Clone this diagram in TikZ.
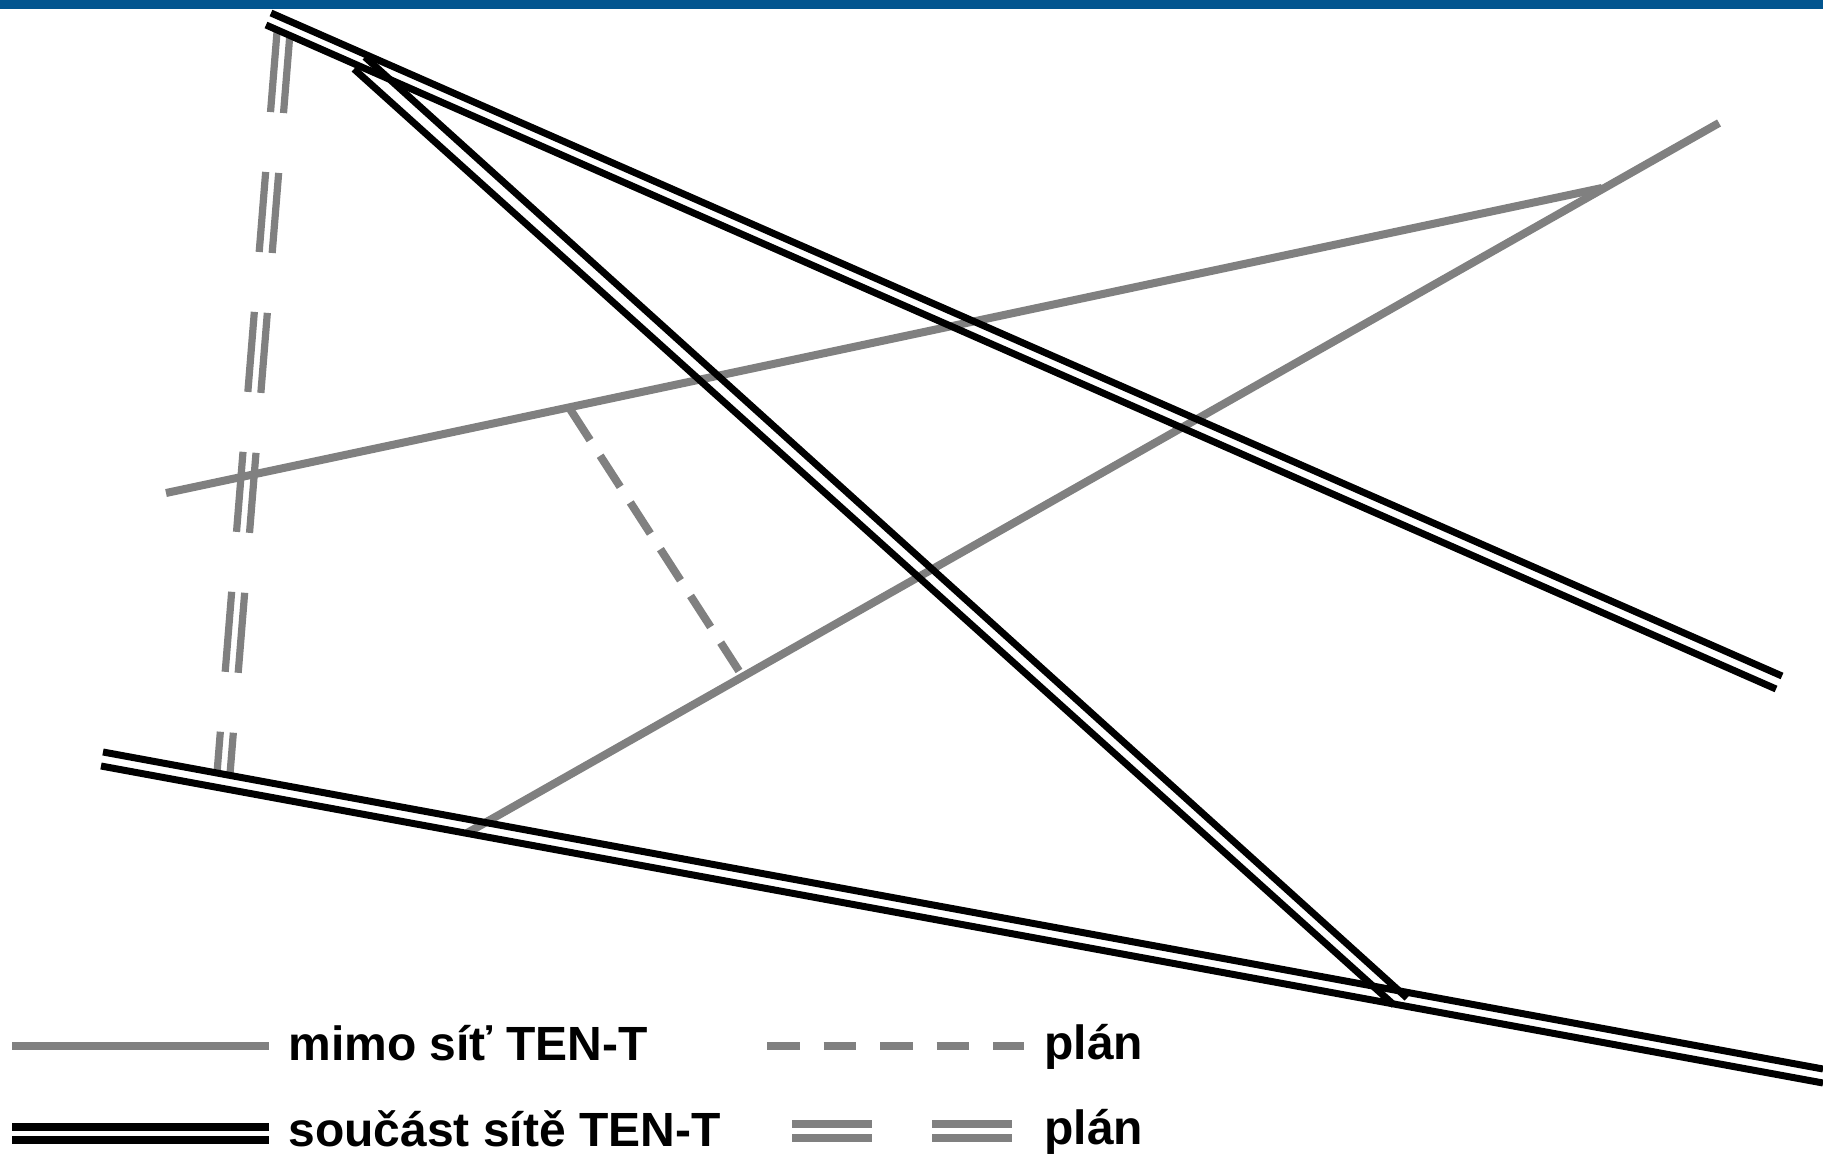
\documentclass[tikz,border=0pt]{standalone}
\usepackage{fontspec}
\setmainfont{Liberation Sans}
\definecolor{barblue}{HTML}{02558F}
\definecolor{railgrey}{HTML}{808080}
\tikzset{
  blackrail/.style={draw=black,line width=3.5pt,line cap=butt},
  greyrail/.style={draw=railgrey,line width=4pt,line cap=butt},
  greyplan/.style={greyrail,dash pattern=on 18.5pt off 9.3pt},
  greydouble/.style={greyrail,line width=3.6pt,dash pattern=on 40.15pt off 30.05pt},
  legendgrey/.style={draw=railgrey,line width=4.2pt,line cap=butt},
  legenddash/.style={legendgrey,dash pattern=on 16.25pt off 12pt},
  legendblack/.style={draw=black,line width=4pt,line cap=butt},
  legenddouble/.style={draw=railgrey,line width=3.8pt,line cap=butt},
  legendtext/.style={anchor=base west,inner sep=0pt,font=\fontsize{24pt}{28pt}\selectfont\bfseries}
}
\begin{document}
\begin{tikzpicture}[x=0.5pt,y=-0.5pt]
\useasboundingbox (0,0) rectangle (1823,1154);
\fill[white] (0,0) rectangle (1823,1154);
\fill[barblue] (0,0) rectangle (1823,9);
% end points
\coordinate (a1) at (271,13);   \coordinate (a2) at (1782,676);
\coordinate (a3) at (266,25);   \coordinate (a4) at (1776,689);
\coordinate (b1) at (365,57);   \coordinate (b2) at (1407,998);
\coordinate (b3) at (354,69);   \coordinate (b4) at (1394,1005);
\coordinate (c1) at (103,752);  \coordinate (c2) at (1823,1069);
\coordinate (c3) at (101,766);  \coordinate (c4) at (1823,1083);
\coordinate (g1) at (166,493);  \coordinate (g2) at (1602,188);
\coordinate (h1) at (1719,123); \coordinate (h2) at (467,833);
\coordinate (p1) at (570,409);  \coordinate (p2) at (739,671);
\coordinate (d1) at (277,32);   \coordinate (d2) at (217,773);
\coordinate (e1) at (290,33);   \coordinate (e2) at (230,774);
% grey lines
\draw[greyrail] (g1) -- (g2);
\draw[greyrail] (h1) -- (h2);
\draw[greyplan] (p1) -- (p2);
\draw[greydouble] (d1) -- (d2);
\draw[greydouble] (e1) -- (e2);
% black double lines
\draw[blackrail] (a1) -- (a2);
\draw[blackrail] (a3) -- (a4);
\draw[blackrail] (c1) -- (c2);
\draw[blackrail] (c3) -- (c4);
\draw[blackrail] (b1) -- (b2);
\draw[blackrail] (b3) -- (b4);
% legend
\coordinate (l1a) at (12,1046);  \coordinate (l1b) at (269,1046);
\coordinate (l2a) at (767,1046); \coordinate (l2b) at (1024,1046);
\coordinate (l3a) at (12,1127);  \coordinate (l3b) at (269,1127);
\coordinate (l4a) at (12,1140);  \coordinate (l4b) at (269,1140);
\coordinate (l5a) at (792,1124); \coordinate (l5b) at (872,1124);
\coordinate (l6a) at (792,1138); \coordinate (l6b) at (872,1138);
\coordinate (l7a) at (932,1124); \coordinate (l7b) at (1012,1124);
\coordinate (l8a) at (932,1138); \coordinate (l8b) at (1012,1138);
\draw[legendgrey] (l1a) -- (l1b);
\draw[legenddash] (l2a) -- (l2b);
\draw[legendblack] (l3a) -- (l3b);
\draw[legendblack] (l4a) -- (l4b);
\draw[legenddouble] (l5a) -- (l5b);
\draw[legenddouble] (l6a) -- (l6b);
\draw[legenddouble] (l7a) -- (l7b);
\draw[legenddouble] (l8a) -- (l8b);
\node[legendtext] (t1) at (288,1060) {mimo síť TEN-T};
\node[legendtext] (t2) at (1044,1059) {plán};
\node[legendtext] (t3) at (288,1146) {součást sítě TEN-T};
\node[legendtext] (t4) at (1044,1144) {plán};
\end{tikzpicture}
\end{document}
